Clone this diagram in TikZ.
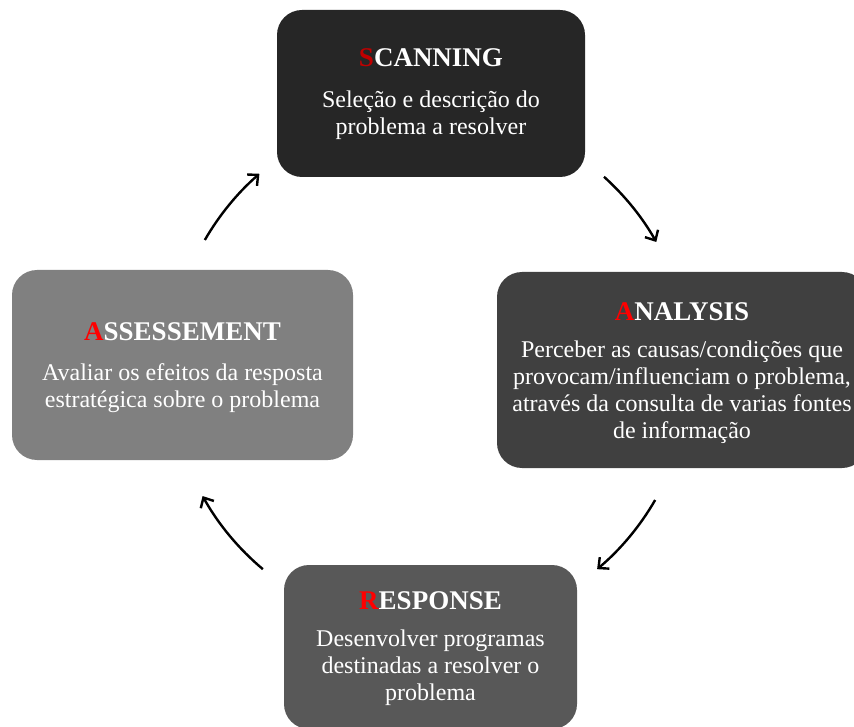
\documentclass[tikz,border=0pt]{standalone}
\usepackage{fontspec}
\setmainfont{Liberation Serif}
\usetikzlibrary{arrows.meta,calc}
\definecolor{cS}{HTML}{262626}
\definecolor{cA}{HTML}{404040}
\definecolor{cAs}{HTML}{808080}
\definecolor{cR}{HTML}{585858}
\definecolor{redS}{HTML}{C00000}
\definecolor{redB}{HTML}{FF0000}
\begin{document}
\begin{tikzpicture}[x=1pt,y=1pt,
  box/.style={rectangle, rounded corners=25pt, inner sep=0pt},
  ttl/.style={text=white, font=\fontsize{27}{30}\selectfont\bfseries, inner sep=0pt},
  body/.style={text=white, align=center, font=\fontsize{24}{27}\selectfont, inner sep=0pt},
  cyc/.style={line width=2.4pt, -{Straight Barb[length=8pt,width=15pt]}}]
\useasboundingbox (0,0) rectangle (854,-727);
% boxes
\node[box, fill=cS, minimum width=308pt, minimum height=167pt] (s) at (431,-93.5) {};
\node[box, fill=cA, minimum width=370pt, minimum height=196pt] (a) at (682,-370) {};
\node[box, fill=cAs, minimum width=341pt, minimum height=190pt] (as) at (182.5,-365) {};
\node[box, fill=cR, minimum width=293pt, minimum height=164pt] (r) at (430.5,-647) {};
% titles
\node[ttl] (st) at (431,-58) {\textcolor{redS}{S}CANNING};
\node[ttl] (at) at (682,-312) {\textcolor{redB}{A}NALYSIS};
\node[ttl] (ast) at (182.5,-332) {\textcolor{redB}{A}SSESSEMENT};
\node[ttl] (rt) at (430.5,-601) {\textcolor{redB}{R}ESPONSE};
% bodies
\node[body] (sb) at (431,-115) {Seleção e descrição do\\problema a resolver};
\node[body] (ab) at (682,-392) {Perceber as causas/condições que\\provocam/influenciam o problema,\\através da consulta de varias fontes\\de informação};
\node[body] (asb) at (182.5,-388) {Avaliar os efeitos da resposta\\estratégica sobre o problema};
\node[body] (rb) at (430.5,-668) {Desenvolver programas\\destinadas a resolver o\\problema};
% cycle arrows
\coordinate (ctr) at (430,-370);
\coordinate (p1) at ($(ctr)+(150:260)$);
\coordinate (p2) at ($(ctr)+(48:260)$);
\coordinate (p3) at ($(ctr)+(-30:260)$);
\coordinate (p4) at ($(ctr)+(230:260)$);
\draw[cyc] (p1) arc[start angle=150, end angle=131, radius=260];
\draw[cyc] (p2) arc[start angle=48, end angle=29.5, radius=260];
\draw[cyc] (p3) arc[start angle=-30, end angle=-50, radius=260];
\draw[cyc] (p4) arc[start angle=230, end angle=209, radius=260];
\end{tikzpicture}
\end{document}
